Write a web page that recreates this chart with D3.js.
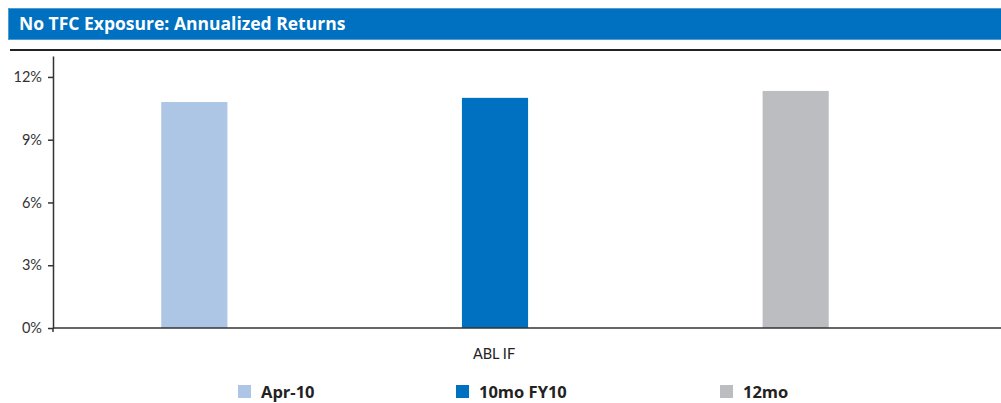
<!DOCTYPE html>
<html><head><meta charset="utf-8">
<script src="https://cdn.jsdelivr.net/npm/d3@7"></script>
<style>body{margin:0;background:#fff;} svg{display:block;font-family:Lato,"Open Sans",sans-serif;}</style>
</head><body>
<svg id="c" width="1001" height="403"></svg>
<script>
const title = "No TFC Exposure: Annualized Returns";
const categories = ["ABL IF"];
const series = ["Apr-10", "10mo FY10", "12mo"];
const values = [10.8, 11.0, 11.33];
const colors = ["#adc6e6", "#0070c0", "#bcbdc1"];
const yTicks = [0, 3, 6, 9, 12];

const svg = d3.select("#c");
// header
svg.append("rect").attr("x", 8.5).attr("y", 8.5).attr("width", 1000).attr("height", 31)
  .attr("fill", "#0070c0").attr("stroke", "#4e9bd6").attr("stroke-width", 1);
svg.append("text").attr("x", 19).attr("y", 30).attr("fill", "#fff")
  .attr("font-family", "'Open Sans',sans-serif")
  .attr("font-size", 17.5).attr("font-weight", "bold").text(title);
svg.append("line").attr("x1", 10).attr("x2", 1001).attr("y1", 50).attr("y2", 50)
  .attr("stroke", "#222").attr("stroke-width", 2);

const y = d3.scaleLinear().domain([0, 13]).range([328, 56]);
const x0 = d3.scaleBand().domain(categories).range([53, 935]);
const c = x0("ABL IF") + x0.bandwidth() / 2;
const x1 = d3.scaleBand().domain(series).range([c - 450, c + 452]).paddingInner(0.78).paddingOuter(0.39);

// bars
svg.append("g").selectAll("rect").data(series).join("rect")
  .attr("x", d => x1(d)).attr("width", x1.bandwidth())
  .attr("y", (d, i) => y(values[i])).attr("height", (d, i) => y(0) - y(values[i]))
  .attr("fill", (d, i) => colors[i]);

// y axis
const yAxis = svg.append("g").attr("transform", "translate(53,0)")
  .call(d3.axisLeft(y).tickValues(yTicks).tickFormat(d => d + "%").tickSize(5).tickPadding(6).tickSizeOuter(0));
yAxis.select(".domain").attr("stroke", "#333").attr("stroke-width", 1.5);
yAxis.selectAll(".tick line").attr("stroke", "#333").attr("stroke-width", 1.5);
yAxis.selectAll(".tick text").attr("font-size", 14.5).attr("fill", "#333").attr("font-family", "Lato,'Open Sans',sans-serif");

// x axis
svg.append("line").attr("x1", 53).attr("x2", 1001).attr("y1", y(0)).attr("y2", y(0))
  .attr("stroke", "#333").attr("stroke-width", 1.5);
svg.append("line").attr("x1", 53).attr("x2", 53).attr("y1", y(0)).attr("y2", y(0) + 4)
  .attr("stroke", "#333").attr("stroke-width", 1.5);
svg.append("g").selectAll("text").data(categories).join("text")
  .attr("x", d => x0(d) + x0.bandwidth() / 2).attr("y", 359)
  .attr("text-anchor", "middle").attr("font-size", 14.5).attr("fill", "#222").text(d => d);

// legend
const legX = [238, 456, 720];
const leg = svg.append("g").selectAll("g").data(series).join("g")
  .attr("transform", (d, i) => `translate(${legX[i]},385)`);
leg.append("rect").attr("width", 13).attr("height", 13).attr("fill", (d, i) => colors[i]);
leg.append("text").attr("x", 23).attr("y", 12.5).attr("font-size", 16.5).attr("font-weight", "bold")
  .attr("font-family", "'Open Sans',sans-serif")
  .attr("fill", "#222").text(d => d);
</script>
</body></html>
